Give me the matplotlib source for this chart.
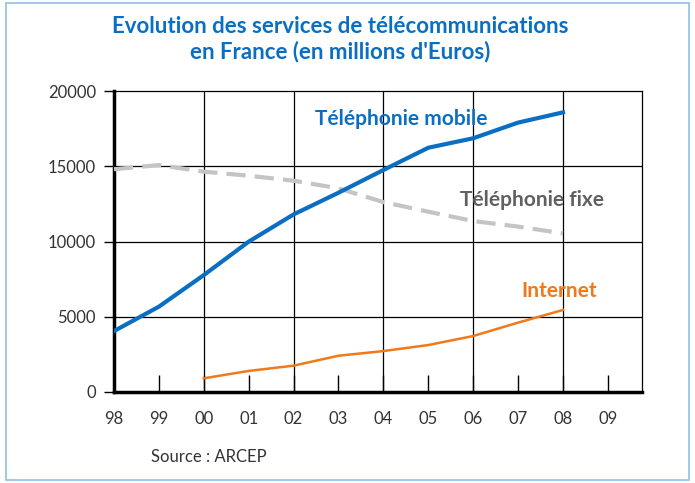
import matplotlib.pyplot as plt
from matplotlib.patches import Rectangle

# Data (millions d'Euros)
years = ['98', '99', '00', '01', '02', '03', '04', '05', '06', '07', '08', '09']
mobile = [4050, 5670, 7770, 9990, 11800, 13240, 14750, 16230, 16860, 17900, 18580]
fixe = [14800, 15080, 14640, 14370, 14040, 13530, 12620, 11980, 11360, 10990, 10540]
internet = [910, 1400, 1750, 2410, 2720, 3120, 3720, 4610, 5450]

blue = '#0a6fc2'
orange = '#f07a1a'
grey = '#c4c4c4'

plt.rcParams['font.family'] = ['Lato', 'DejaVu Sans']

fig = plt.figure(figsize=(6.95, 4.83), dpi=100)

# light blue frame round the figure
fig.patches.append(Rectangle((6 / 695, 3 / 483), 683 / 695, 477 / 483,
                             transform=fig.transFigure, fill=False,
                             edgecolor='#8fc0e6', linewidth=1.2))

ax = fig.add_axes([114 / 695, 91 / 483, 528 / 695, 301 / 483])

x_mobile = list(range(len(mobile)))
x_fixe = list(range(len(fixe)))
x_internet = list(range(2, 2 + len(internet)))

ax.plot(x_fixe, fixe, color=grey, linewidth=3, linestyle=(0, (4.6, 2.2)), zorder=3)
ax.plot(x_mobile, mobile, color=blue, linewidth=3, zorder=4)
ax.plot(x_internet, internet, color=orange, linewidth=1.8, zorder=4)

ax.set_xlim(0, 11.76)
ax.set_ylim(0, 20000)

# grid lines
for xv in [2, 4, 6, 8, 10]:
    ax.axvline(xv, color='black', linewidth=0.9, zorder=1)
for yv in [5000, 10000, 15000]:
    ax.axhline(yv, color='black', linewidth=0.9, zorder=1)

ax.set_xticks(range(len(years)))
ax.set_xticklabels(years)
ax.set_yticks([0, 5000, 10000, 15000, 20000])
ax.tick_params(axis='x', direction='in', length=12, width=1, pad=14,
               labelsize=12, labelcolor='#333333')
ax.tick_params(axis='y', direction='out', length=7, width=1, pad=6,
               labelsize=12, labelcolor='#333333')

for side in ['left', 'bottom']:
    ax.spines[side].set_linewidth(2.5)
for side in ['top', 'right']:
    ax.spines[side].set_linewidth(0.9)

# series labels
ax.text(4.48, 17740, 'Téléphonie mobile', color=blue, fontsize=15,
        fontweight='bold', va='baseline')
ax.text(7.71, 12360, 'Téléphonie fixe', color='#606060', fontsize=15,
        fontweight='bold', va='baseline')
ax.text(9.08, 6310, 'Internet', color=orange, fontsize=15,
        fontweight='bold', va='baseline')

fig.text(0.489, 1 - 39 / 483, 'Evolution des services de télécommunications\nen France (en millions d\'Euros)',
         ha='center', va='center', color=blue, fontsize=16, fontweight='bold',
         linespacing=1.2)
fig.text(151 / 695, 1 - 457 / 483, 'Source : ARCEP', ha='left', va='center',
         fontsize=12, color='#333333')

fig.savefig('out.png', dpi=100)
